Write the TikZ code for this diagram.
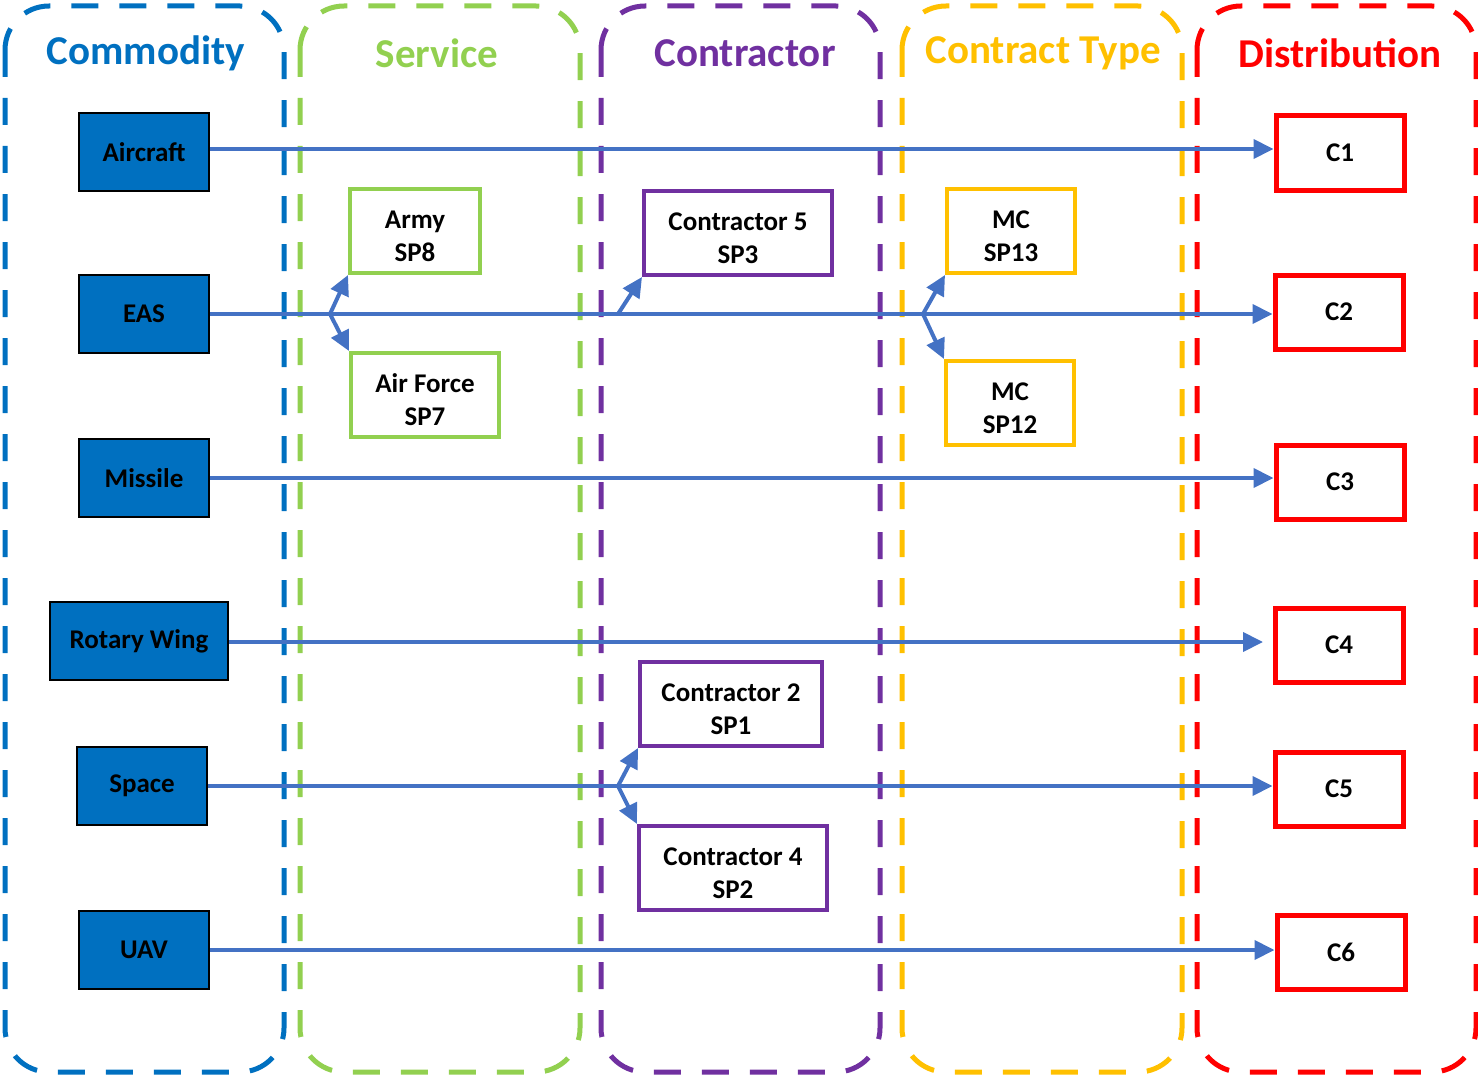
\documentclass[tikz,border=0pt]{standalone}
\usepackage{fontspec}
\setmainfont{Carlito}
\usetikzlibrary{arrows.meta,positioning}
\definecolor{comblue}{HTML}{0070C0}
\definecolor{svcgreen}{HTML}{92D050}
\definecolor{conpurple}{HTML}{7030A0}
\definecolor{typeyellow}{HTML}{FFC000}
\definecolor{distred}{HTML}{FF0000}
\definecolor{flowblue}{HTML}{4472C4}
\newcommand{\tworow}[2]{\rule{0pt}{14pt}#1\\#2}

\begin{document}
\begin{tikzpicture}[x=0.5pt, y=-0.5pt,
  lane/.style={line width=2.5pt, dash pattern=on 13.5pt off 10.5pt, rounded corners=22pt},
  title/.style={font=\bfseries\fontsize{20.5}{24}\selectfont},
  boxtext/.style={font=\bfseries\fontsize{13.5}{16.5}\selectfont, align=center, inner sep=0pt},
  twoline/.style={boxtext, fill=white, line width=2pt, minimum height=42pt},
  commodity/.style={boxtext, draw=black, line width=1pt, fill=comblue, minimum width=65pt, minimum height=39pt},
  service/.style={twoline, draw=svcgreen},
  contractor/.style={twoline, draw=conpurple},
  ctype/.style={twoline, draw=typeyellow, minimum width=64pt},
  dist/.style={boxtext, draw=distred, line width=2.5pt, fill=white, minimum width=64pt, minimum height=37pt},
  flow/.style={draw=flowblue, line width=2pt, -{Triangle[length=10pt, width=9.5pt]}}
]
\useasboundingbox (0,0) rectangle (1478,1081);

% dashed columns
\draw[lane, comblue] (5,6) rectangle (284,1072);
\draw[lane, svcgreen] (300,6) rectangle (580,1072);
\draw[lane, conpurple] (601,6) rectangle (880,1072);
\draw[lane, typeyellow] (902,6) rectangle (1182,1072);
\draw[lane, distred] (1197,6) rectangle (1476,1072);

\node[title, text=comblue] (tcom) at (146,53) {Commodity};
\node[title, text=svcgreen] (tsvc) at (437,53) {Service};
\node[title, text=conpurple] (tcon) at (745,53) {Contractor};
\node[title, text=typeyellow] (ttype) at (1043,53) {Contract Type};
\node[title, text=distred] (tdist) at (1340,53) {Distribution};

% commodities
\node[commodity] (air) at (144,152) {Aircraft};
\node[commodity] (eas) at (144,314) {EAS};
\node[commodity] (mis) at (144,478) {Missile};
\node[commodity, minimum width=89pt] (rot) at (139,641) {Rotary Wing};
\node[commodity] (spc) at (142,786) {Space};
\node[commodity] (uav) at (144,950) {UAV};

% distribution
\node[dist] (c1) at (1340,153) {C1};
\node[dist] (c2) at (1339,312) {C2};
\node[dist] (c3) at (1340,482) {C3};
\node[dist] (c4) at (1339,645) {C4};
\node[dist] (c5) at (1339,789) {C5};
\node[dist] (c6) at (1341,952) {C6};

% services, contractors, contract types
\node[service, minimum width=65pt] (army) at (415,231) {\tworow{Army}{SP8}};
\node[service, minimum width=74pt] (airforce) at (425,395) {\tworow{Air Force}{SP7}};
\node[contractor, minimum width=94pt] (con5) at (738,233) {\tworow{Contractor 5}{SP3}};
\node[contractor, minimum width=91pt] (con2) at (731,704) {\tworow{Contractor 2}{SP1}};
\node[contractor, minimum width=94pt] (con4) at (733,868) {\tworow{Contractor 4}{SP2}};
\node[ctype] (mc13) at (1011,231) {\tworow{MC}{SP13}};
\node[ctype] (mc12) at (1010,403) {\tworow{MC}{SP12}};

% main flows
\draw[flow] (air.east |- 0,149) -- (c1.west |- 0,149);
\draw[flow] (eas.east) -- (eas.east -| c2.west);
\draw[flow] (mis.east) -- (mis.east -| c3.west);
\draw[flow] (rot.east |- 0,642) -- (1263,642);
\draw[flow] (spc.east) -- (spc.east -| c5.west);
\draw[flow] (uav.east) -- (uav.east -| c6.west);

% branches off the flows
\coordinate (svcsplit) at (330,314);
\coordinate (consplit) at (618,314);
\coordinate (typesplit) at (923,314);
\coordinate (spcsplit) at (618,786);
\draw[flow] (svcsplit) -- (army.south west);
\draw[flow] (svcsplit) -- (airforce.north west);
\draw[flow] (consplit) -- (con5.south west);
\draw[flow] (typesplit) -- (mc13.south west);
\draw[flow] (typesplit) -- (mc12.north west);
\draw[flow] (spcsplit) -- (con2.south west);
\draw[flow] (spcsplit) -- (con4.north west);
\end{tikzpicture}
\end{document}
